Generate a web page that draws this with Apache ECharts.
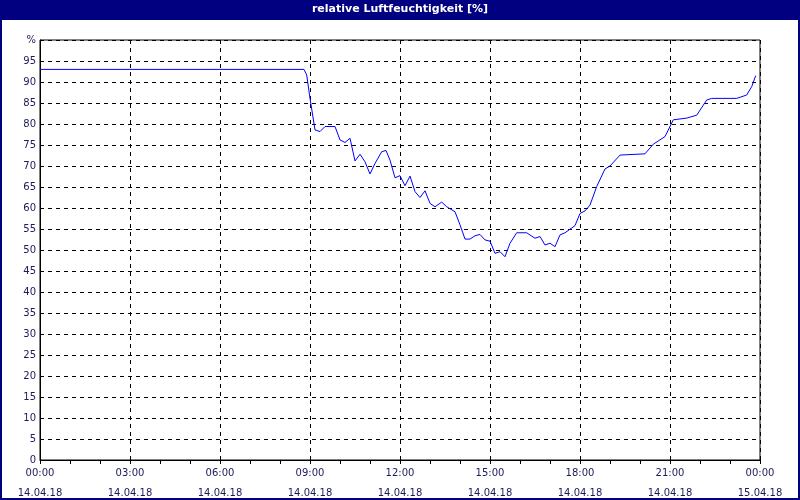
<!DOCTYPE html>
<html><head><meta charset="utf-8">
<script src="https://cdn.jsdelivr.net/npm/echarts@6/dist/echarts.min.js"></script>
<style>html,body{margin:0;padding:0;background:#fff}#c{width:800px;height:500px}</style>
</head><body><div id="c"></div>
<script>
const titleText = 'relative Luftfeuchtigkeit [%]';
const xTickLabels = ['00:00\n14.04.18','03:00\n14.04.18','06:00\n14.04.18','09:00\n14.04.18','12:00\n14.04.18','15:00\n14.04.18','18:00\n14.04.18','21:00\n14.04.18','00:00\n15.04.18'];
// pixel-read samples: x position (px) and humidity (%)
const samplePx = [40,304,306.7,310,315,320,325,335,340,345,350,355,360,365,370,375,381.7,386,390,395,400,405,410,415,420,425,430,435,441.7,446.7,455,460,465,470,475,480,485,490,495,500,505,510,516.7,526.7,535,540,545,550,555,560,565,575,580,585,590,596.7,605,610,620,645,653.3,665,673.3,686.7,696.7,706.7,711.7,736.7,746.7,751.7,755.7];
const humidity = [93,93,91.7,86.1,78.6,78.2,79.4,79.4,76.2,75.6,76.6,71.2,72.8,71.0,68.1,70.6,73.4,73.7,71.4,67.2,67.7,65.3,67.6,63.9,62.5,64.1,61.1,60.3,61.4,60.3,59.1,56.0,52.6,52.6,53.4,53.7,52.4,52.1,49.2,49.6,48.4,51.6,54.1,54.1,52.8,53.2,51.2,51.6,50.8,53.6,54.1,55.8,58.7,59.3,60.7,65.1,69.3,70.0,72.6,72.9,75.2,77.0,81.0,81.4,82.1,85.7,86.1,86.1,86.9,88.9,91.5];
const hours = samplePx.map(p => (p - 40) / 30);
const data = hours.map((h, i) => [h, humidity[i]]);
const chart = echarts.init(document.getElementById('c'));
const txt = '#1a1a5a';
chart.setOption({
  animation:false,
  backgroundColor:'#fff',
  graphic:[
    {type:'rect',shape:{x:0,y:0,width:800,height:20},style:{fill:'#000080'}},
    {type:'rect',shape:{x:1,y:1,width:798,height:498},style:{fill:null,stroke:'#000080',lineWidth:2},z:100},
    {type:'text',left:'center',top:4,style:{text:titleText,fill:'#fff',font:'bold 11px "DejaVu Sans"'}}
  ],
  grid:{left:40,right:40,top:40,bottom:40,show:true,borderColor:'#000',borderWidth:1,containLabel:false,outerBoundsMode:'none'},
  xAxis:{type:'value',min:0,max:24,interval:3,
    axisLine:{lineStyle:{color:'#000'}},
    axisTick:{length:4,lineStyle:{color:'#000'}},
    minorTick:{show:true,splitNumber:3,length:4,lineStyle:{color:'#000'}},
    axisLabel:{color:txt,fontSize:10,fontFamily:'DejaVu Sans',lineHeight:20,margin:3,
      formatter:(v)=>xTickLabels[Math.round(v/3)]},
    splitLine:{show:true,lineStyle:{color:'#000',type:[4,4]}}},
  yAxis:{type:'value',min:0,max:100,interval:5,
    axisLine:{show:true,lineStyle:{color:'#000'}},
    axisTick:{show:false},
    axisLabel:{color:txt,fontSize:10,fontFamily:'DejaVu Sans',margin:4,formatter:(v)=>v===100?'%':String(v)},
    splitLine:{show:true,lineStyle:{color:'#000',type:[4,4]}}},
  series:[{type:'line',data:data,showSymbol:false,lineStyle:{color:'#0000ff',width:1},z:5}]
});
</script></body></html>
